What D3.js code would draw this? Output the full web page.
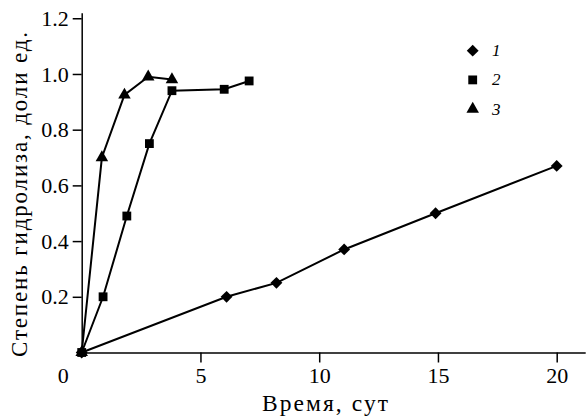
<!DOCTYPE html>
<html><head><meta charset="utf-8">
<script src="https://cdn.jsdelivr.net/npm/d3@7"></script>
</head>
<body style="margin:0;background:#fff"><svg id="c" width="586" height="416"></svg>
<script>
// Data (time, days; hydrolysis degree, fraction)
const series1X = [0, 6.1, 8.2, 11.05, 14.9, 20];
const series1Y = [0, 0.20, 0.25, 0.37, 0.50, 0.67];
const series2X = [0, 0.9, 1.9, 2.85, 3.8, 6.0, 7.05];
const series2Y = [0, 0.20, 0.49, 0.75, 0.94, 0.945, 0.975];
const series3X = [0, 0.85, 1.8, 2.8, 3.8];
const series3Y = [0, 0.70, 0.925, 0.99, 0.98];
const seriesNames = ["1", "2", "3"];
const seriesSymbols = ["diamond", "square", "triangle"];
const xTicks = [0, 5, 10, 15, 20];
const yTicks = [0.2, 0.4, 0.6, 0.8, 1.0, 1.2];
const xTitle = "Время, сут";
const yTitle = "Степень гидролиза, доли ед.";

const FONT = "Liberation Serif, Times New Roman, serif";
const svg = d3.select("#c");
const x = d3.scaleLinear().domain([0, 21.2]).range([81.7, 585.2]);
const y = d3.scaleLinear().domain([0, 1.22]).range([352.5, 12.7]);

// axes
const xa = svg.append("g").attr("transform", `translate(0,${y(0)})`)
  .call(d3.axisBottom(x).tickValues(xTicks).tickSize(10).tickSizeOuter(0).tickPadding(5).tickFormat(d3.format("d")));
const ya = svg.append("g").attr("transform", `translate(${x(0)},0)`)
  .call(d3.axisLeft(y).tickValues(yTicks).tickSize(9).tickSizeOuter(0).tickPadding(4).tickFormat(d3.format(".1f")));
[xa, ya].forEach(g => {
  g.attr("font-family", FONT).attr("font-size", 22);
  g.selectAll("path,line").attr("stroke", "#000").attr("stroke-width", 1.5);
  g.selectAll("text").attr("font-size", 22).attr("font-family", FONT).attr("fill", "#000");
});
// origin label: no tick line, shifted left to the corner
xa.selectAll(".tick").filter(d => d === 0).select("line").remove();
xa.selectAll(".tick").filter(d => d === 0).select("text").attr("dx", -19);

// titles
svg.append("text").attr("x", 325).attr("y", 411).attr("text-anchor", "middle")
  .attr("font-family", FONT).attr("font-size", 23.5)
  .attr("textLength", 126).attr("lengthAdjust", "spacing").text(xTitle);
svg.append("text").attr("transform", "translate(27,194.5) rotate(-90)").attr("text-anchor", "middle")
  .attr("font-family", FONT).attr("font-size", 23)
  .attr("textLength", 325).attr("lengthAdjust", "spacing").text(yTitle);

// symbols
function sym(kind) {
  if (kind === "diamond") return d3.symbol().type(d3.symbolSquare).size(70)();
  if (kind === "square") return d3.symbol().type(d3.symbolSquare).size(78)();
  return d3.symbol().type(d3.symbolTriangle).size(68)();
}
function rot(kind) { return kind === "diamond" ? " rotate(45)" : ""; }

const allSeries = [
  {xs: series1X, ys: series1Y},
  {xs: series2X, ys: series2Y},
  {xs: series3X, ys: series3Y}
];
const line = d3.line().x(d => x(d[0])).y(d => y(d[1]));
allSeries.forEach((s, i) => {
  const pts = s.xs.map((v, j) => [v, s.ys[j]]);
  svg.append("path").datum(pts).attr("d", line).attr("fill", "none")
    .attr("stroke", "#000").attr("stroke-width", 2);
  svg.append("g").selectAll("path").data(pts).join("path")
    .attr("d", sym(seriesSymbols[i]))
    .attr("transform", d => `translate(${x(d[0])},${y(d[1])})${rot(seriesSymbols[i])}`)
    .attr("fill", "#000");
});

// legend
const lg = svg.append("g");
seriesNames.forEach((n, i) => {
  const yy = 50.7 + i * 29.2;
  lg.append("path").attr("d", sym(seriesSymbols[i]))
    .attr("transform", `translate(472.7,${yy})${rot(seriesSymbols[i])}`).attr("fill", "#000");
  lg.append("text").attr("x", 492).attr("y", yy + 5.5).attr("font-size", 17)
    .attr("font-family", FONT).attr("font-style", "italic").text(n);
});
</script></body></html>
